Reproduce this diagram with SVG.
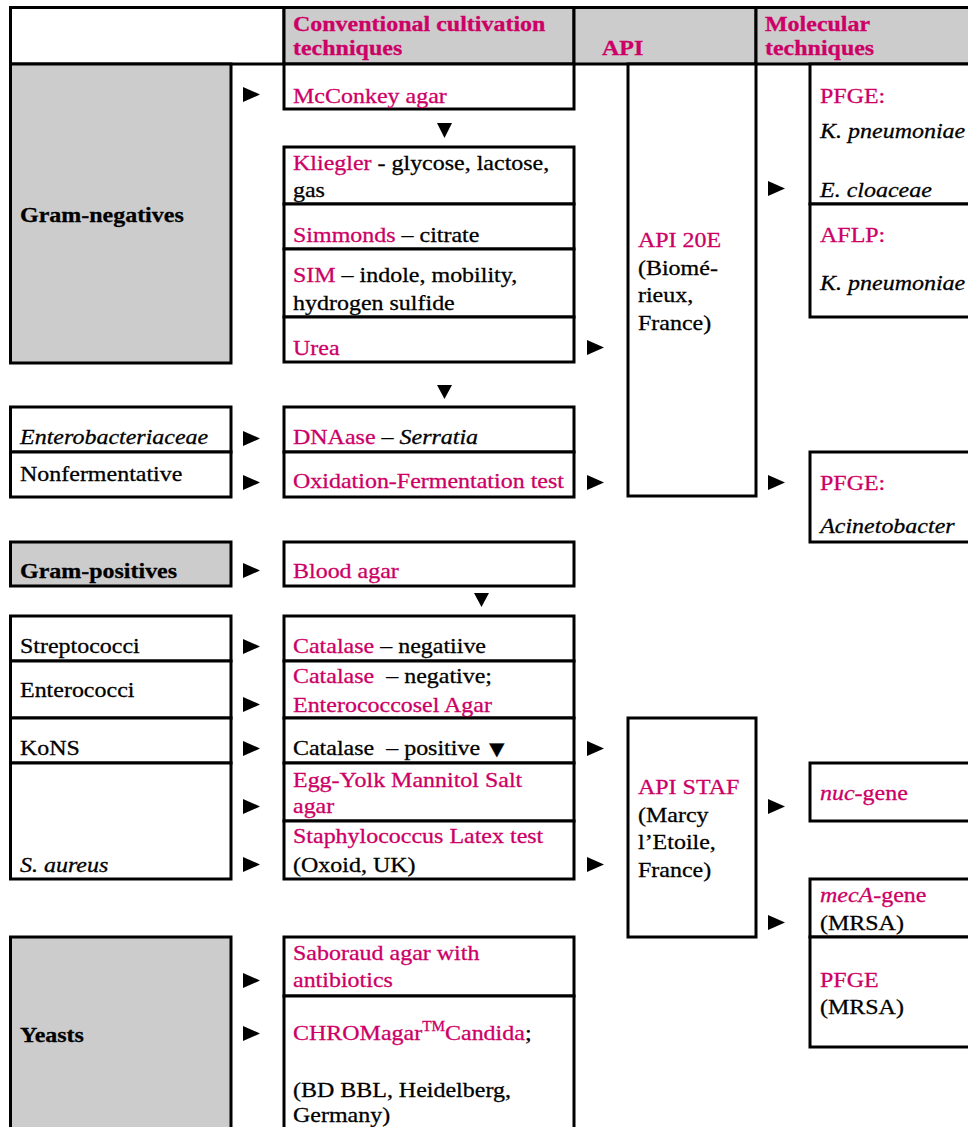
<svg xmlns="http://www.w3.org/2000/svg" width="968" height="1127" viewBox="0 0 968 1127">
<style>
.b{fill:#fff;stroke:#000;stroke-width:3}
.g{fill:#cccccc;stroke:#000;stroke-width:3}
.t{font-family:"Liberation Serif","Times New Roman",serif;font-size:22px;fill:#000;stroke:#000;stroke-width:0.3;transform-box:fill-box;transform-origin:0 0;transform:scaleX(1.09)}
.p{fill:#cc0066;stroke:#cc0066}
.bd{font-weight:bold}
.i{font-style:italic}
.h{font-weight:bold;fill:#cc0066;stroke:#cc0066}
.ar{fill:#000}
</style>
<rect x="0" y="0" width="968" height="1127" fill="#fff"/>
<g id="header">
<rect class="b" x="10.5" y="7.5" width="273.5" height="56.5"/>
<rect class="g" x="284" y="7.5" width="290" height="56.5"/>
<rect class="g" x="574" y="7.5" width="182" height="56.5"/>
<rect class="g" x="756" y="7.5" width="220" height="56.5"/>
<text class="t h" x="293" y="31">Conventional cultivation</text>
<text class="t h" x="293" y="55">techniques</text>
<text class="t h" x="602" y="55">API</text>
<text class="t h" x="765" y="31">Molecular</text>
<text class="t h" x="765" y="55">techniques</text>
</g>
<g id="gram-negatives">
<rect class="g" x="10.5" y="64" width="220.5" height="299"/>
<text class="t bd" x="20" y="222">Gram-negatives</text>
</g>
<g id="mcconkey">
<rect class="b" x="284" y="64" width="290" height="45"/>
<text class="t p" x="293" y="103">McConkey agar</text>
</g>
<g id="kliegler">
<rect class="b" x="284" y="147" width="290" height="57"/>
<text class="t" x="293" y="170"><tspan class="p">Kliegler</tspan> - glycose, lactose,</text>
<text class="t" x="293" y="197">gas</text>
</g>
<g id="simmonds">
<rect class="b" x="284" y="204" width="290" height="45"/>
<text class="t" x="293" y="242"><tspan class="p">Simmonds</tspan> – citrate</text>
</g>
<g id="sim">
<rect class="b" x="284" y="249" width="290" height="68"/>
<text class="t" x="293" y="282"><tspan class="p">SIM</tspan> – indole, mobility,</text>
<text class="t" x="293" y="310">hydrogen sulfide</text>
</g>
<g id="urea">
<rect class="b" x="284" y="317" width="290" height="45"/>
<text class="t p" x="293" y="355">Urea</text>
</g>
<g id="api20e">
<rect class="b" x="628" y="64" width="128" height="432"/>
<text class="t p" x="638" y="247">API 20E</text>
<text class="t" x="638" y="275">(Biomé-</text>
<text class="t" x="638" y="302">rieux,</text>
<text class="t" x="638" y="330">France)</text>
</g>
<g id="pfge-kp">
<rect class="b" x="810" y="64" width="170" height="140"/>
<text class="t p" x="820" y="103">PFGE:</text>
<text class="t i" x="820" y="138">K. pneumoniae</text>
<text class="t i" x="820" y="197">E. cloaceae</text>
</g>
<g id="aflp">
<rect class="b" x="810" y="204" width="170" height="113"/>
<text class="t p" x="820" y="242">AFLP:</text>
<text class="t i" x="820" y="290">K. pneumoniae</text>
</g>
<g id="enterobacteriaceae">
<rect class="b" x="10.5" y="407" width="220.5" height="45"/>
<text class="t i" x="20" y="444">Enterobacteriaceae</text>
</g>
<g id="nonfermentative">
<rect class="b" x="10.5" y="452" width="220.5" height="45"/>
<text class="t" x="20" y="481">Nonfermentative</text>
</g>
<g id="dnaase">
<rect class="b" x="284" y="407" width="290" height="45"/>
<text class="t" x="293" y="444"><tspan class="p">DNAase</tspan> – <tspan class="i">Serratia</tspan></text>
</g>
<g id="of-test">
<rect class="b" x="284" y="452" width="290" height="45"/>
<text class="t p" x="293" y="488">Oxidation-Fermentation test</text>
</g>
<g id="pfge-acinetobacter">
<rect class="b" x="810" y="452" width="170" height="90"/>
<text class="t p" x="820" y="490">PFGE:</text>
<text class="t i" x="820" y="533">Acinetobacter</text>
</g>
<g id="gram-positives">
<rect class="g" x="10.5" y="542" width="220.5" height="44"/>
<text class="t bd" x="20" y="578">Gram-positives</text>
</g>
<g id="blood-agar">
<rect class="b" x="284" y="542" width="290" height="44"/>
<text class="t p" x="293" y="578">Blood agar</text>
</g>
<g id="streptococci">
<rect class="b" x="10.5" y="616" width="220.5" height="45"/>
<text class="t" x="20" y="653">Streptococci</text>
</g>
<g id="enterococci">
<rect class="b" x="10.5" y="661" width="220.5" height="57"/>
<text class="t" x="20" y="697">Enterococci</text>
</g>
<g id="kons">
<rect class="b" x="10.5" y="718" width="220.5" height="45"/>
<text class="t" x="20" y="755">KoNS</text>
</g>
<g id="s-aureus">
<rect class="b" x="10.5" y="763" width="220.5" height="116"/>
<text class="t i" x="20" y="872">S. aureus</text>
</g>
<g id="catalase-neg1">
<rect class="b" x="284" y="616" width="290" height="45"/>
<text class="t" x="293" y="653"><tspan class="p">Catalase</tspan> – negatiive</text>
</g>
<g id="catalase-neg2">
<rect class="b" x="284" y="661" width="290" height="57"/>
<text class="t" x="293" y="683" xml:space="preserve"><tspan class="p">Catalase</tspan>  – negative;</text>
<text class="t p" x="293" y="712">Enterococcosel Agar</text>
</g>
<g id="catalase-pos">
<rect class="b" x="284" y="718" width="290" height="45"/>
<text class="t" x="293" y="755" xml:space="preserve">Catalase  – positive <tspan dx="3" style="font-family:'DejaVu Sans',sans-serif;font-size:18px">▼</tspan></text>
</g>
<g id="egg-yolk">
<rect class="b" x="284" y="763" width="290" height="58"/>
<text class="t p" x="293" y="787">Egg-Yolk Mannitol Salt</text>
<text class="t p" x="293" y="813">agar</text>
</g>
<g id="latex">
<rect class="b" x="284" y="821" width="290" height="58"/>
<text class="t p" x="293" y="843">Staphylococcus Latex test</text>
<text class="t" x="293" y="872">(Oxoid, UK)</text>
</g>
<g id="api-staf">
<rect class="b" x="628" y="718" width="128" height="219"/>
<text class="t p" x="638" y="794">API STAF</text>
<text class="t" x="638" y="822">(Marcy</text>
<text class="t" x="638" y="849">l’Etoile,</text>
<text class="t" x="638" y="877">France)</text>
</g>
<g id="nuc-gene">
<rect class="b" x="810" y="763" width="170" height="58"/>
<text class="t p" x="820" y="800"><tspan class="i">nuc</tspan>-gene</text>
</g>
<g id="meca-gene">
<rect class="b" x="810" y="879" width="170" height="58"/>
<text class="t p" x="820" y="902"><tspan class="i">mecA</tspan>-gene</text>
<text class="t" x="820" y="930">(MRSA)</text>
</g>
<g id="pfge-mrsa">
<rect class="b" x="810" y="937" width="170" height="110"/>
<text class="t p" x="820" y="987">PFGE</text>
<text class="t" x="820" y="1014">(MRSA)</text>
</g>
<g id="yeasts">
<rect class="g" x="10.5" y="937" width="220.5" height="210"/>
<text class="t bd" x="20" y="1042">Yeasts</text>
</g>
<g id="saboraud">
<rect class="b" x="284" y="937" width="290" height="59"/>
<text class="t p" x="293" y="960">Saboraud agar with</text>
<text class="t p" x="293" y="987">antibiotics</text>
</g>
<g id="chromagar">
<rect class="b" x="284" y="996" width="290" height="150"/>
<text class="t" x="293" y="1040"><tspan class="p">CHROMagar</tspan><tspan class="p" dy="-9" style="font-size:14px">TM</tspan><tspan class="p" dy="9">Candida</tspan>;</text>
<text class="t" x="293" y="1097">(BD BBL, Heidelberg,</text>
<text class="t" x="293" y="1122">Germany)</text>
</g>
<g id="connectors">
<g class="ar">
<path d="M243 87 L260 94.5 L243 102 Z"/>
<path d="M243 431 L260 438.5 L243 446 Z"/>
<path d="M243 475 L260 482.5 L243 490 Z"/>
<path d="M243 563 L260 570.5 L243 578 Z"/>
<path d="M243 639 L260 646.5 L243 654 Z"/>
<path d="M243 697 L260 704.5 L243 712 Z"/>
<path d="M243 741 L260 748.5 L243 756 Z"/>
<path d="M243 799 L260 806.5 L243 814 Z"/>
<path d="M243 857 L260 864.5 L243 872 Z"/>
<path d="M243 973 L260 980.5 L243 988 Z"/>
<path d="M243 1026 L260 1033.5 L243 1041 Z"/>
<path d="M587 340 L604 347.5 L587 355 Z"/>
<path d="M587 475 L604 482.5 L587 490 Z"/>
<path d="M587 741 L604 748.5 L587 756 Z"/>
<path d="M587 857 L604 864.5 L587 872 Z"/>
<path d="M768 181 L785 188.5 L768 196 Z"/>
<path d="M768 475 L785 482.5 L768 490 Z"/>
<path d="M768 799 L785 806.5 L768 814 Z"/>
<path d="M768 915 L785 922.5 L768 930 Z"/>
<path d="M437 123 L452 123 L444.5 138 Z"/>
<path d="M437 385 L452 385 L444.5 399 Z"/>
<path d="M474 593 L489 593 L481.5 607 Z"/>
</g>
</g>
</svg>
